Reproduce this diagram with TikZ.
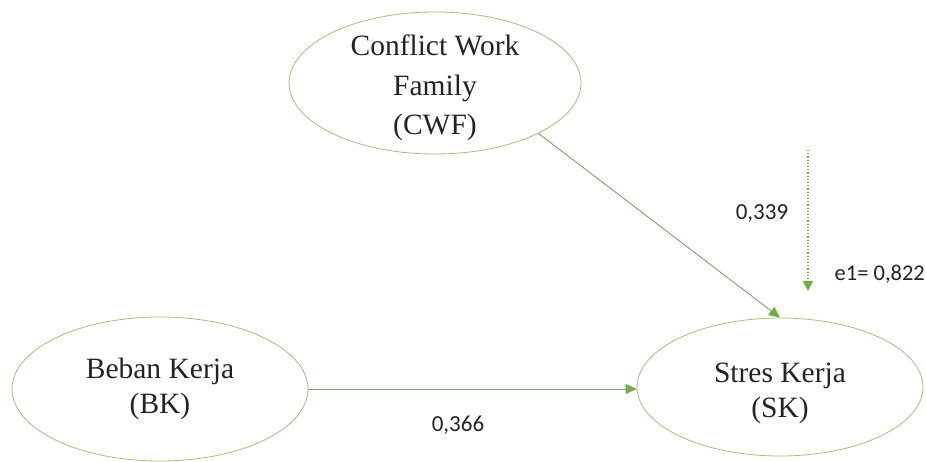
\documentclass[tikz,border=0pt]{standalone}
\usepackage{fontspec}
\setmainfont{Liberation Serif}
\newfontfamily\labelfont{Carlito}
\usetikzlibrary{shapes.geometric,arrows.meta}
\definecolor{ovalline}{RGB}{160,192,125}
\definecolor{pathline}{RGB}{125,160,105}
\definecolor{tipgreen}{RGB}{112,173,71}
\definecolor{inktext}{RGB}{35,35,35}
\begin{document}
\begin{tikzpicture}[x=1pt,y=-1pt,
  latent/.style={ellipse,draw=ovalline,line width=0.8pt,inner sep=0pt},
  latent text/.style={align=center,text=inktext,inner sep=0pt,
    font=\fontsize{29.5}{35}\selectfont},
  path coef/.style={draw=pathline,line width=0.9pt,
    -{Triangle[length=11pt,width=10pt,color=tipgreen,fill=tipgreen]}},
  err path/.style={draw=tipgreen,line width=1.2pt,dotted,
    -{Triangle[length=10pt,width=10pt,color=tipgreen,fill=tipgreen]}},
  coef/.style={text=inktext,font=\labelfont\fontsize{23}{26}\selectfont,inner sep=0pt}]
\useasboundingbox (0,0) rectangle (926,462);

% latent constructs
\node[latent,minimum width=292pt,minimum height=142pt] (cwf) at (435,83) {};
\node[latent text,font=\fontsize{29.5}{39.5}\selectfont] (cwftxt)
  at ([yshift=-5pt]cwf.center) {Conflict Work\\ Family\\ (CWF)};

\node[latent,minimum width=296pt,minimum height=144pt] (bk) at (160,389) {};
\node[latent text] (bktxt) at (bk.center) {Beban Kerja\\ (BK)};

\node[latent,minimum width=286pt,minimum height=138pt] (sk) at (780,387) {};
\node[latent text] (sktxt) at ([yshift=-6pt]sk.center) {Stres Kerja\\ (SK)};

% structural paths
\draw[path coef] (cwf.-26) -- (sk.north);
\draw[path coef] (bk.east) -- (bk.east -| sk.west);

% error term on the endogenous construct
\coordinate (etop) at (808,150);
\coordinate (ehead) at (808,291);
\draw[err path] (etop) -- (ehead);

% coefficients
\node[coef] (c1) at (762,214) {0,339};
\node[coef] (c2) at (458,425) {0,366};
\node[coef,anchor=east,font=\labelfont\fontsize{22.5}{26}\selectfont] (c3)
  at (925,274) {e1= 0,822};
\end{tikzpicture}
\end{document}
